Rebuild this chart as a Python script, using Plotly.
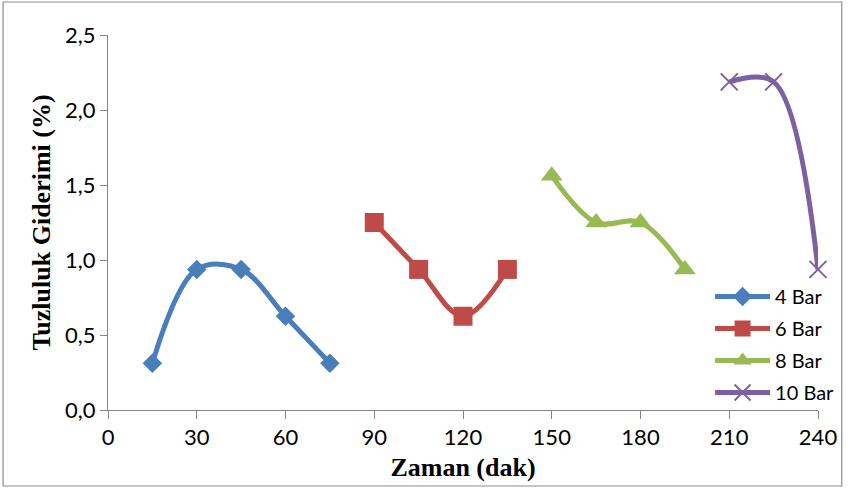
import plotly.graph_objects as go

# Sampling times (min) and salinity removal (%) for each pressure
t_4 = [15, 30, 45, 60, 75]
v_4 = [0.3125, 0.9375, 0.9375, 0.625, 0.3125]
t_6 = [90, 105, 120, 135]
v_6 = [1.25, 0.9375, 0.625, 0.9375]
t_8 = [150, 165, 180, 195]
v_8 = [1.5625, 1.25, 1.25, 0.9375]
t_10 = [210, 225, 240]
v_10 = [2.1875, 2.1875, 0.9375]

x_ticks = [0, 30, 60, 90, 120, 150, 180, 210, 240]
y_ticks = [0.0, 0.5, 1.0, 1.5, 2.0, 2.5]
y_tick_text = ["0,0", "0,5", "1,0", "1,5", "2,0", "2,5"]

series = [
    ("4 Bar", t_4, v_4, "#4A7EBB", dict(symbol="diamond", size=15)),
    ("6 Bar", t_6, v_6, "#BE4B48", dict(symbol="square", size=19)),
    ("8 Bar", t_8, v_8, "#98B954", dict(symbol="triangle-up", size=19)),
    ("10 Bar", t_10, v_10, "#7D60A0", dict(symbol="x-thin", size=17, line=dict(width=2, color="#7D60A0"))),
]

fig = go.Figure()
for name, xs, ys, color, marker in series:
    fig.add_trace(go.Scatter(
        x=xs, y=ys, name=name, legendgroup=name, mode="lines+markers",
        line=dict(color=color, width=5, shape="spline", smoothing=1),
        marker=dict(color=color, **marker),
        cliponaxis=False,
    ))

W, H = 852, 488
L, R, T, B = 108, 27, 35, 78
pw, ph = W - L - R, H - T - B

def px_to_paper_x(px):
    return (px - L) / pw

def px_to_paper_y(py):
    return (H - B - py) / ph

# outer frame around the whole chart
fig.add_shape(type="rect", xref="paper", yref="paper",
              x0=px_to_paper_x(2), x1=px_to_paper_x(849),
              y0=px_to_paper_y(486), y1=px_to_paper_y(2),
              line=dict(color="#8C8C8C", width=1.2), fillcolor="rgba(0,0,0,0)")

tick_font = dict(family="Lato, Open Sans, sans-serif", size=22, color="#000000")
title_font = dict(family="Liberation Serif, Times New Roman, serif", size=26, color="#000000")

fig.update_layout(
    width=W, height=H,
    margin=dict(l=L, r=R, t=T, b=B),
    paper_bgcolor="white", plot_bgcolor="white",
    showlegend=True,
    legend=dict(x=px_to_paper_x(716), y=px_to_paper_y(277), xanchor="left", yanchor="top",
                bgcolor="rgba(0,0,0,0)", font=dict(family="Lato, Open Sans, sans-serif", size=20, color="#000000"),
                itemwidth=55, tracegroupgap=3, itemsizing="trace"),
    xaxis=dict(range=[0, 240], tickvals=x_ticks, ticktext=[str(v) for v in x_ticks],
               showgrid=False, zeroline=False, showline=True, linecolor="#868686", linewidth=1,
               ticks="outside", ticklen=8, tickcolor="#868686", tickfont=tick_font,
               title=dict(text="<b>Zaman (dak)</b>", font=title_font, standoff=8)),
    yaxis=dict(range=[0, 2.5], tickvals=y_ticks, ticktext=y_tick_text,
               showgrid=False, zeroline=False, showline=True, linecolor="#868686", linewidth=1,
               ticks="outside", ticklen=7, tickcolor="#868686", tickfont=tick_font,
               title=dict(text="<b>Tuzluluk Giderimi (%)</b>", font=title_font, standoff=6)),
)

fig.write_html("out.html")
